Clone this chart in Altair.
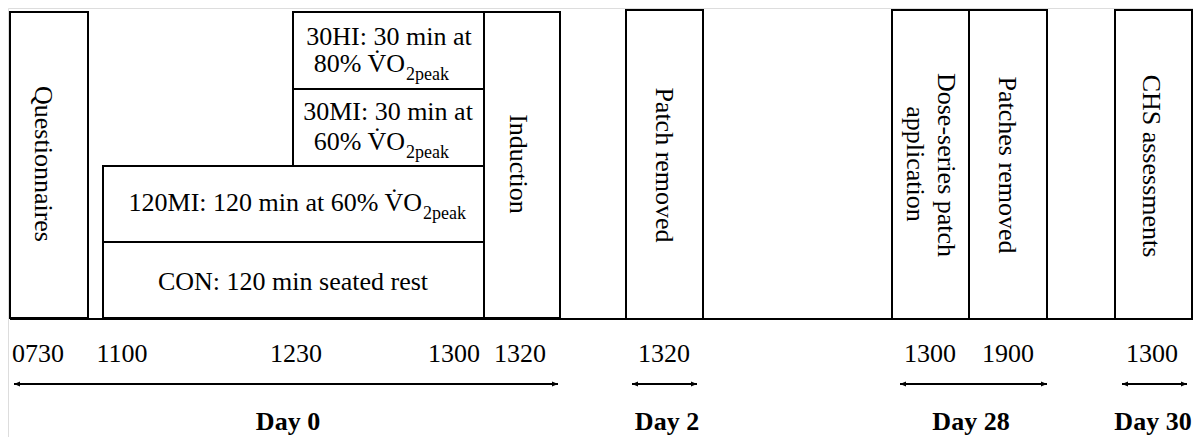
import altair as alt
import pandas as pd

FONT = "Liberation Serif"

# ---- boxes of the study timeline (layout units = page pixels) ----
box_names = ["Questionnaires", "CON", "120MI", "30MI", "30HI", "Induction",
             "Patch removed", "Dose-series", "Patches removed", "CHS"]
box_x0 = [10, 103, 103, 293, 293, 484, 626, 892, 969, 1115]
box_x1 = [88, 484, 484, 484, 484, 560, 703, 969, 1047, 1192]
box_y0 = [12, 242, 166, 89, 12, 12, 10, 10, 10, 10]
box_y1 = [318, 318, 242, 166, 89, 318, 319, 319, 319, 319]

# ---- vertical (rotated) box labels ----
vert_text = ["Questionnaires", "Induction", "Patch removed", "Dose-series patch",
             "application", "Patches removed", "CHS assessments"]
vert_x = [35, 510, 656, 938, 907, 999, 1143]
vert_y = [164, 164, 165, 165, 164, 165, 166]

# ---- horizontal box labels (centered) ----
hc_text = ["30HI: 30 min at", "30MI: 30 min at", "CON: 120 min seated rest"]
hc_x = [389, 388, 293]
hc_y = [45, 120, 290]

# ---- labels ending in VO2peak: main part (right aligned) + subscript ----
vo_text = ["80% V\u0307O", "60% V\u0307O", "120MI: 120 min at 60% V\u0307O"]
vo_x = [405, 405, 422]
vo_y = [72, 150, 211]
sub_text = ["2peak", "2peak", "2peak"]
sub_y = [80, 158, 219]

# ---- clock times under the timeline ----
time_labels = ["0730", "1100", "1230", "1300", "1320", "1320", "1300", "1900", "1300"]
time_x = [38, 122, 296, 454, 520, 664, 930, 1008, 1152]

# ---- day spans ----
day_labels = ["Day 0", "Day 2", "Day 28", "Day 30"]
day_x = [288, 667, 971, 1153]
arrow_x0 = [14, 632, 900, 1122]
arrow_x1 = [558, 697, 1047, 1187]

baseline_x = [10, 1192]

xs = alt.Scale(domain=[8, 1193], nice=False, zero=False)
ys = alt.Scale(domain=[8, 437], nice=False, zero=False, reverse=True)
X = lambda f: alt.X(f, type="quantitative", scale=xs, axis=None)
Y = lambda f: alt.Y(f, type="quantitative", scale=ys, axis=None)

boxes = pd.DataFrame({"name": box_names, "x0": box_x0, "x1": box_x1,
                      "y0": box_y0, "y1": box_y1})
vert = pd.DataFrame({"t": vert_text, "x": vert_x, "y": vert_y})
hc = pd.DataFrame({"t": hc_text, "x": hc_x, "y": hc_y})
vo = pd.DataFrame({"t": vo_text, "x": vo_x, "y": vo_y})
sub = pd.DataFrame({"t": sub_text, "x": vo_x, "y": sub_y})
times = pd.DataFrame({"t": time_labels, "x": time_x, "y": [362] * len(time_x)})
days = pd.DataFrame({"t": day_labels, "x": day_x, "y": [430] * len(day_x)})
arrows = pd.DataFrame({"x0": arrow_x0, "x1": arrow_x1, "y": [384] * len(arrow_x0)})
heads_l = pd.DataFrame({"x": arrow_x0, "y": [384] * len(arrow_x0)})
heads_r = pd.DataFrame({"x": arrow_x1, "y": [384] * len(arrow_x1)})
base = pd.DataFrame({"x0": [baseline_x[0]], "x1": [baseline_x[1]], "y": [319]})

baseline = alt.Chart(base).mark_rule(color="black", strokeWidth=2).encode(
    x=X("x0"), x2="x1", y=Y("y"))

rects = alt.Chart(boxes).mark_rect(fill="white", stroke="black", strokeWidth=2).encode(
    x=X("x0"), x2="x1", y=Y("y0"), y2="y1")

txt_kw = dict(font=FONT, fontSize=26, color="black", baseline="alphabetic")

vert_layer = alt.Chart(vert).mark_text(align="center", angle=90, **txt_kw).encode(
    x=X("x"), y=Y("y"), text="t")
hc_layer = alt.Chart(hc).mark_text(align="center", **txt_kw).encode(
    x=X("x"), y=Y("y"), text="t")
vo_layer = alt.Chart(vo).mark_text(align="right", **txt_kw).encode(
    x=X("x"), y=Y("y"), text="t")
sub_layer = alt.Chart(sub).mark_text(align="left", font=FONT, fontSize=18,
                                     color="black", baseline="alphabetic", dx=1).encode(
    x=X("x"), y=Y("y"), text="t")
time_layer = alt.Chart(times).mark_text(align="center", **txt_kw).encode(
    x=X("x"), y=Y("y"), text="t")
day_layer = alt.Chart(days).mark_text(align="center", fontWeight="bold", **txt_kw).encode(
    x=X("x"), y=Y("y"), text="t")

arrow_rules = alt.Chart(arrows).mark_rule(color="black", strokeWidth=2).encode(
    x=X("x0"), x2="x1", y=Y("y"))
left_heads = alt.Chart(heads_l).mark_point(
    shape="M 0 0 L 2 -0.8 L 2 0.8 Z", filled=True, color="black", opacity=1, size=36
).encode(x=X("x"), y=Y("y"))
right_heads = alt.Chart(heads_r).mark_point(
    shape="M 0 0 L -2 -0.8 L -2 0.8 Z", filled=True, color="black", opacity=1, size=36
).encode(x=X("x"), y=Y("y"))

chart = alt.layer(
    baseline, rects, vert_layer, hc_layer, vo_layer, sub_layer,
    time_layer, day_layer, arrow_rules, left_heads, right_heads
).properties(
    width=1185, height=429, padding=0,
    autosize=alt.AutoSizeParams(type="none")
).configure_view(stroke=None).configure(background="white")

chart.save("out.html", embed_options={"renderer": "svg", "actions": False})
